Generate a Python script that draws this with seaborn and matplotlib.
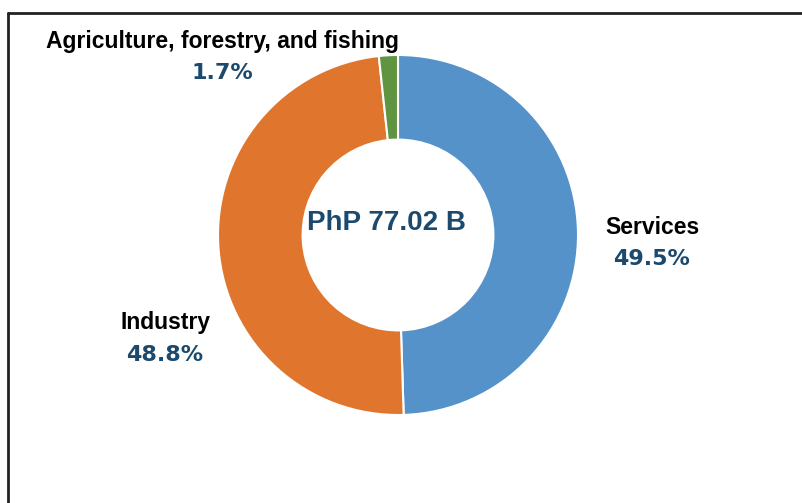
import matplotlib.pyplot as plt
import seaborn as sns

# Data
sectors = ['Services', 'Industry', 'Agriculture, forestry, and fishing']
shares = [49.5, 48.8, 1.7]
colors = ['#5592CA', '#E0762D', '#5F9441']
total_label = 'PhP 77.02 B'

sns.set_theme(style='white')
plt.rcParams['font.family'] = ['Liberation Sans', 'DejaVu Sans']

W, H = 802, 503
fig = plt.figure(figsize=(W / 100, H / 100), dpi=100)
ax = fig.add_axes([0, 0, 1, 1])
ax.set_xlim(0, W)
ax.set_ylim(0, H)
ax.set_aspect('equal')
ax.axis('off')

# Donut
ax.pie(shares, colors=colors, startangle=90, counterclock=False,
       center=(398, H - 235), radius=180,
       wedgeprops=dict(width=180 * 0.47, edgecolor='white', linewidth=1.5))
ax.set_xlim(0, W)
ax.set_ylim(0, H)

ax.text(386, H - 223, total_label, ha='center', va='center',
        fontsize=20, fontweight='bold', color='#1B4A6E')

# Labels: (x, y of name) in pixels
label_pos = [(652, 227), (166, 323), (223, 41)]
for name, val, (x, y) in zip(sectors, shares, label_pos):
    ax.text(x, H - y, name, ha='center', va='center',
            fontsize=16.5, fontweight='bold', color='black')
    ax.text(x - 1, H - y - 32, f'{val}%', ha='center', va='center',
            fontsize=16, fontweight='bold', color='#1B4A6E',
            family='DejaVu Sans')

# frame around the chart (top and left edges visible)
ax.plot([7.5, W], [H - 13, H - 13], color='#222222', lw=2, clip_on=False)
ax.plot([7.5, 7.5], [H - 13, 0], color='#222222', lw=2, clip_on=False)

fig.savefig('out.png', dpi=100)
